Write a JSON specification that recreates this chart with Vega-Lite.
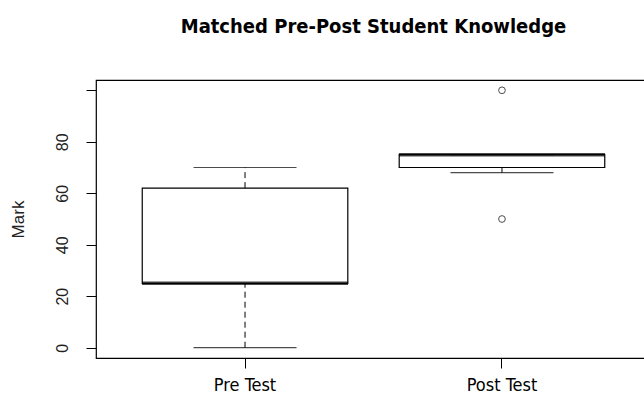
{
  "$schema": "https://vega.github.io/schema/vega-lite/v6.json",
  "autosize": {"type": "none"},
  "padding": {"left": 96, "top": 80, "right": 0, "bottom": 55},
  "width": 555,
  "height": 278,
  "background": "white",
  "title": {
    "text": "Matched Pre-Post Student Knowledge",
    "font": "DejaVu Sans Condensed",
    "fontSize": 20,
    "fontWeight": "bold",
    "color": "black",
    "anchor": "middle",
    "offset": 43
  },
  "config": {
    "view": {"stroke": "black", "strokeWidth": 1.2},
    "axis": {"grid": false, "domain": false, "tickColor": "black", "tickSize": 10, "labelColor": "#222"}
  },
  "datasets": {
    "stats": [
      {"group": "Pre Test", "lower": 0, "q1": 25, "median": 25, "q3": 62, "upper": 70},
      {"group": "Post Test", "lower": 68, "q1": 70, "median": 75, "q3": 75, "upper": 75}
    ],
    "outliers": [
      {"group": "Post Test", "mark": 100},
      {"group": "Post Test", "mark": 50}
    ]
  },
  "encoding": {
    "x": {
      "field": "group",
      "type": "nominal",
      "sort": ["Pre Test", "Post Test"],
      "scale": {"type": "band", "paddingInner": 0.2, "paddingOuter": 0.18},
      "axis": {
        "title": null,
        "labelAngle": 0,
        "labelFont": "DejaVu Sans Condensed",
        "labelFontSize": 18,
        "labelColor": "black",
        "labelPadding": 8
      }
    }
  },
  "layer": [
    {
      "data": {"name": "stats"},
      "mark": {"type": "bar", "fill": "white", "stroke": "black", "strokeWidth": 1.2},
      "encoding": {
        "y": {
          "field": "q1",
          "type": "quantitative",
          "scale": {"domain": [-4, 104], "nice": false, "zero": false},
          "axis": {
            "title": "Mark",
            "titleFont": "Liberation Sans",
            "titleFontSize": 17,
            "titleFontWeight": "normal",
            "titleColor": "#222",
            "titleAngle": -90,
            "titleX": -69,
            "titleY": 139,
            "values": [0, 20, 40, 60, 80, 100],
            "labelExpr": "datum.value == 100 ? '' : datum.label",
            "labelAngle": -90,
            "labelAlign": "center",
            "labelBaseline": "bottom",
            "labelFont": "Liberation Sans",
            "labelFontSize": 16,
            "labelPadding": 16
          }
        },
        "y2": {"field": "q3"}
      }
    },
    {
      "data": {"name": "stats"},
      "mark": {"type": "rule", "color": "black", "strokeWidth": 1, "strokeDash": [6, 4]},
      "encoding": {"y": {"field": "q3", "type": "quantitative"}, "y2": {"field": "upper"}}
    },
    {
      "data": {"name": "stats"},
      "mark": {"type": "rule", "color": "black", "strokeWidth": 1, "strokeDash": [6, 4]},
      "encoding": {"y": {"field": "lower", "type": "quantitative"}, "y2": {"field": "q1"}}
    },
    {
      "data": {"name": "stats"},
      "mark": {"type": "tick", "orient": "horizontal", "color": "black", "size": 103, "thickness": 1.2},
      "encoding": {"y": {"field": "lower", "type": "quantitative"}}
    },
    {
      "data": {"name": "stats"},
      "mark": {"type": "tick", "orient": "horizontal", "color": "black", "size": 103, "thickness": 1.2},
      "encoding": {"y": {"field": "upper", "type": "quantitative"}}
    },
    {
      "data": {"name": "stats"},
      "mark": {"type": "tick", "orient": "horizontal", "color": "black", "size": 206, "thickness": 3.5},
      "encoding": {"y": {"field": "median", "type": "quantitative"}}
    },
    {
      "data": {"name": "outliers"},
      "mark": {"type": "point", "shape": "circle", "filled": false, "color": "black", "size": 45, "strokeWidth": 1},
      "encoding": {"y": {"field": "mark", "type": "quantitative"}}
    }
  ]
}
